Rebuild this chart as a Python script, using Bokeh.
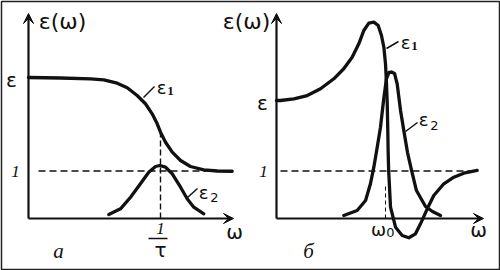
from bokeh.plotting import figure
from bokeh.models import Range1d, Label, Arrow, VeeHead
from bokeh.embed import file_html
from bokeh.resources import INLINE

# ---------------- data ----------------
# Panel а : relaxation, frequency in units of 1/tau
a_eps_static = 2.97
a_eps1_w = [0.0, 0.242, 0.470, 0.570, 0.672, 0.748, 0.823, 0.886, 0.937, 0.975, 1.0, 1.038,
            1.089, 1.152, 1.227, 1.328, 1.430, 1.543]
a_eps1 = [2.968, 2.958, 2.941, 2.920, 2.848, 2.752, 2.589, 2.415, 2.204, 1.994, 1.817, 1.606,
          1.396, 1.221, 1.095, 1.025, 1.0, 0.995]
a_eps2_w = [0.608, 0.697, 0.773, 0.848, 0.911, 0.962, 0.995, 1.038, 1.089, 1.152, 1.202, 1.252, 1.328]
a_eps2 = [0.084, 0.204, 0.448, 0.731, 0.975, 1.095, 1.116, 1.080, 0.941, 0.659, 0.415, 0.238, 0.099]

# Panel б : resonance, frequency in units of omega_0
b_eps_static = 2.48
b_eps1_w = [0.0, 0.037, 0.159, 0.282, 0.404, 0.526, 0.617, 0.694, 0.755, 0.801, 0.847, 0.893, 0.933,
            0.963, 0.985, 1.0, 1.009, 1.016, 1.021, 1.024, 1.029, 1.046, 1.092, 1.153, 1.214, 1.275,
            1.321, 1.383, 1.443, 1.535, 1.627, 1.718, 1.841]
b_eps1 = [2.484, 2.484, 2.520, 2.589, 2.731, 2.941, 3.152, 3.396, 3.678, 3.958, 4.112, 4.133, 4.063,
          3.853, 3.606, 3.257, 2.836, 2.415, 1.853, 1.432, 1.011, 0.238, -0.183, -0.358, -0.406, -0.322,
          -0.112, 0.204, 0.484, 0.731, 0.869, 0.954, 1.011]
b_eps2_w = [0.617, 0.740, 0.817, 0.862, 0.893, 0.924, 0.954, 0.982, 1.009, 1.032, 1.055, 1.083, 1.107,
            1.138, 1.168, 1.202, 1.239, 1.284, 1.367, 1.431, 1.505]
b_eps2 = [0.063, 0.168, 0.379, 0.731, 1.080, 1.501, 1.922, 2.484, 2.947, 3.074, 3.084, 3.053, 2.836,
          2.274, 1.850, 1.389, 1.011, 0.589, 0.253, 0.147, 0.063]

# ---------------- layout (pixel geometry of the two panels) ----------------
W, H = 500, 270
AX0, ASX = 28.0, 132.0     # panel а : pixel of origin, pixels per unit
BX0, BSX = 276.0, 109.0    # panel б
Y0, SY = 218.0, 47.5       # shared vertical: pixel of zero, pixels per unit


def ax(px):
    return (px - AX0) / ASX


def bx(px):
    return (px - BX0) / BSX


def yy(py):
    return (Y0 - py) / SY


p = figure(width=W, height=H, output_backend="svg", toolbar_location=None,
           x_range=Range1d(ax(1), ax(W - 1)), y_range=Range1d(yy(H - 1), yy(1)),
           x_axis_location=None, y_axis_location=None,
           min_border_left=1, min_border_right=1, min_border_top=1, min_border_bottom=1)
p.extra_x_ranges = {"b": Range1d(bx(1), bx(W - 1))}
p.grid.visible = False
p.outline_line_color = "#222222"
p.outline_line_width = 1.5
p.background_fill_color = "white"
p.border_fill_color = "white"

INK = "#111111"
FONT = "DejaVu Sans"
SERIF = "Liberation Serif"

# ---- axes (arrows) ----
for rng, conv, xend in (("default", ax, 233), ("b", bx, 483)):
    p.add_layout(Arrow(x_start=0, y_start=0, x_end=0, y_end=yy(13), x_range_name=rng,
                       line_width=2.2, line_color=INK,
                       end=VeeHead(size=10, line_color=INK, fill_color=INK, line_width=1)))
    p.add_layout(Arrow(x_start=0, y_start=0, x_end=conv(xend), y_end=0, x_range_name=rng,
                       line_width=2.2, line_color=INK,
                       end=VeeHead(size=10, line_color=INK, fill_color=INK, line_width=1)))

# ---- dashed guides ----
p.line([ax(38), ax(214)], [1, 1], line_dash="7 4", line_width=1.4, color=INK)
p.line([1, 1], [0, a_eps1[10]], line_dash="6 3", line_width=1.4, color=INK)
p.line([bx(280), bx(474)], [1, 1], line_dash="7 4", line_width=1.4, color=INK, x_range_name="b")
p.line([1, 1], [0, yy(186)], line_dash="4 3", line_width=1.0, color=INK, x_range_name="b")

# ---- curves ----
kw = dict(line_width=3.3, color=INK, line_cap="round", line_join="round")
p.line(a_eps1_w, a_eps1, **kw)
p.line(a_eps2_w, a_eps2, **kw)
p.line(b_eps1_w, b_eps1, x_range_name="b", **kw)
p.line(b_eps2_w, b_eps2, x_range_name="b", **kw)

# ---- leader lines ----
p.line([ax(143), ax(154)], [yy(97), yy(86)], line_width=1.5, color=INK)
p.line([ax(187), ax(197)], [yy(197), yy(188)], line_width=1.5, color=INK)
p.line([ax(148), ax(167)], [yy(238), yy(238)], line_width=1.6, color=INK)  # fraction bar
p.line([bx(386), bx(398)], [yy(48), yy(41)], line_width=1.5, color=INK, x_range_name="b")
p.line([bx(405), bx(417)], [yy(131), yy(122)], line_width=1.5, color=INK, x_range_name="b")


def txt(x, y, s, size, rng="default", font=FONT, style="normal", align="center"):
    p.add_layout(Label(x=x, y=y, text=s, x_range_name=rng, text_font=font,
                       text_font_size=f"{size}px", text_font_style=style, text_color=INK,
                       text_align=align, text_baseline="middle"))


# panel а texts
txt(ax(62), yy(21), "ε(ω)", 22)
txt(ax(11), a_eps_static - 0.05, "ε", 20)
txt(ax(15), 1, "1", 17, font=SERIF, style="italic")
txt(ax(161), yy(87), "ε", 18)
txt(ax(170), yy(90), "1", 13, font=SERIF, style="bold")
txt(ax(203), yy(192), "ε", 18)
txt(ax(214), yy(197), "2", 13)
txt(1, yy(228), "1", 17, font=SERIF, style="italic")
txt(1, yy(249), "τ", 20)
txt(ax(234), yy(231), "ω", 20)
txt(ax(58), yy(250), "а", 21, font=SERIF, style="italic")

# panel б texts
txt(bx(246), yy(21), "ε(ω)", 22, rng="b")
txt(bx(262), b_eps_static - 0.05, "ε", 20, rng="b")
txt(bx(263), 1, "1", 17, rng="b", font=SERIF, style="italic")
txt(bx(405), yy(42), "ε", 18, rng="b")
txt(bx(414), yy(45), "1", 13, rng="b", font=SERIF, style="bold")
txt(bx(423), yy(119), "ε", 18, rng="b")
txt(bx(434), yy(125), "2", 13, rng="b")
txt(bx(378), yy(229), "ω", 18, rng="b")
txt(bx(390), yy(232), "0", 13, rng="b")
txt(bx(478), yy(229), "ω", 20, rng="b")
txt(bx(308), yy(250), "б", 21, rng="b", font=SERIF, style="italic")

open("out.html", "w").write(file_html(p, INLINE))
